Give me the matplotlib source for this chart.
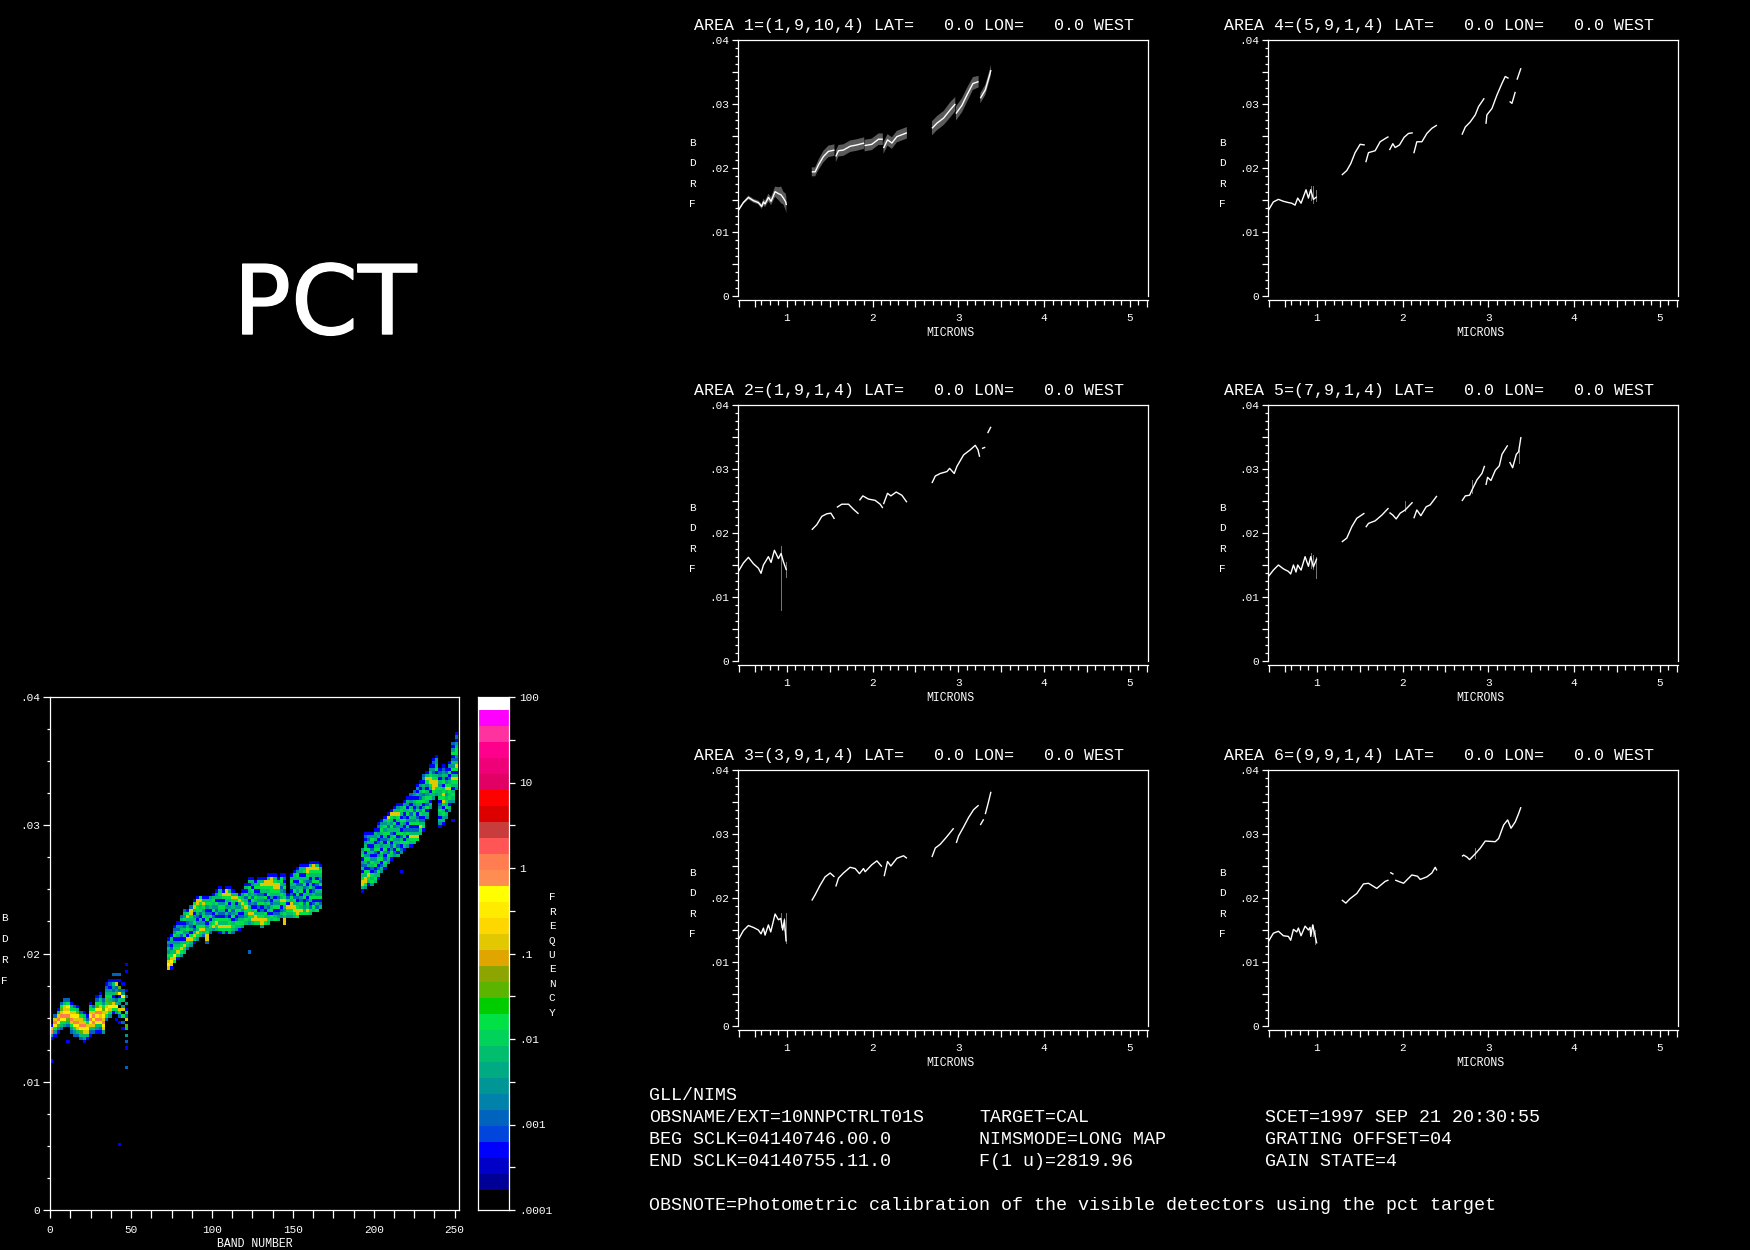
import matplotlib
matplotlib.use('Agg')
from matplotlib import patheffects
from matplotlib import pyplot as plt
from matplotlib.colors import BoundaryNorm, ListedColormap
import numpy as np

nan = float('nan')
W, H = 1750, 1250
FONT = 'Liberation Mono'

# spectra, nan marks a gap in the curve
AREA1_WL = [.436, .494, .553, .611, .669, .708, .728, .747, .786, .817, .864, .903, .934, .961, .988, .996, nan,
            1.292, 1.331, 1.37, 1.428, 1.486, 1.556, nan, 1.572, 1.603, 1.66, 1.74, 1.817, 1.903, nan,
            1.907, 1.992, 2.07, 2.12, nan, 2.128, 2.175, 2.226, 2.284, 2.342, 2.401, nan,
            2.693, 2.751, 2.829, 2.907, 2.965, nan, 2.973, 3.043, 3.101, 3.171, 3.237, nan, 3.257, 3.315, 3.354, 3.381]
AREA1_BDRF = [.0134, .0146, .0154, .0149, .0146, .0140, .0147, .0144, .0154, .0148, .0163, .0160, .0158, .0153, .0147, .0142, nan,
              .0194, .0194, .0205, .0218, .0226, .0228, nan, .0218, .0227, .0228, .0234, .0236, .0239, nan,
              .0235, .0237, .0245, .0245, nan, .0231, .0244, .0239, .0249, .0252, .0255, nan,
              .0262, .0270, .0278, .0291, .0300, nan, .0285, .0298, .0314, .0332, .0335, nan, .0309, .0322, .0340, .0353]
AREA1_SPREAD = [.0002, .0002, .0003, .0003, .0003, .0004, .0005, .0005, .0006, .0006, .0008, .0010, .0013, .0010, .0013, .0013, nan,
                .0007, .0007, .0008, .0009, .0009, .0009, nan, .0009, .0009, .0009, .0009, .0009, .0009, nan,
                .0009, .0009, .0009, .0009, nan, .0009, .0009, .0009, .0009, .0009, .0009, nan,
                .0011, .0011, .0011, .0012, .0011, nan, .0011, .0011, .0011, .0010, .0009, nan, .0008, .0008, .0008, .0008]
AREA2_WL = [.436, .494, .553, .611, .669, .70, .728, .786, .817, .856, .903, .934, .961, .996, nan,
            1.292, 1.35, 1.409, 1.467, 1.514, 1.556, nan, 1.584, 1.642, 1.72, 1.778, 1.837, nan,
            1.848, 1.887, 1.953, 2.031, 2.089, 2.12, nan, 2.128, 2.175, 2.214, 2.276, 2.342, 2.401, nan,
            2.693, 2.732, 2.79, 2.868, 2.899, 2.953, 2.984, 3.062, 3.14, 3.198, 3.23, 3.249, nan, 3.276, 3.315, nan, 3.342, 3.381]
AREA2_BDRF = [.0140, .0153, .0162, .0152, .0145, .0137, .0150, .0163, .0154, .0173, .0160, .0168, .0155, .0142, nan,
              .0205, .0213, .0226, .0230, .0231, .0222, nan, .0240, .0245, .0245, .0237, .0230, nan,
              .0251, .0258, .0253, .0251, .0245, .0239, nan, .0245, .0262, .0258, .0264, .0259, .0248, nan,
              .0278, .0289, .0293, .0296, .0301, .0293, .0304, .0322, .0330, .0337, .0330, .0319, nan, .0332, .0334, nan, .0356, .0366]
AREA3_WL = [.436, .494, .553, .611, .669, .70, .728, .747, .786, .813, .864, .903, .93, .953, .973, .992, nan,
            1.292, 1.331, 1.389, 1.447, 1.506, 1.556, nan, 1.572, 1.603, 1.661, 1.739, 1.798, 1.848, 1.895, 1.914, 1.992, 2.051, 2.109, nan,
            2.136, 2.175, 2.214, 2.284, 2.362, 2.401, nan,
            2.693, 2.732, 2.79, 2.868, 2.946, nan, 2.977, 3.004, 3.062, 3.121, 3.179, 3.237, nan, 3.257, 3.296, nan, 3.315, 3.354, 3.381]
AREA3_BDRF = [.0135, .0149, .0157, .0154, .0150, .0144, .0153, .0142, .0158, .0147, .0175, .0166, .0168, .0150, .0166, .0132, nan,
              .0196, .0205, .0220, .0233, .0239, .0233, nan, .0218, .0231, .0239, .0248, .0246, .0238, .0246, .0241, .0252, .0258, .0249, nan,
              .0234, .0257, .0250, .0262, .0266, .0262, nan,
              .0264, .0278, .0284, .0296, .0309, nan, .0286, .0297, .0311, .0326, .0338, .0345, nan, .0314, .0323, nan, .0331, .0351, .0366]
AREA4_WL = [.436, .494, .553, .611, .669, .708, .747, .778, .817, .875, .903, .93, .961, 1.0, nan,
            1.292, 1.35, 1.397, 1.447, 1.506, 1.56, nan, 1.572, 1.603, 1.681, 1.739, 1.798, 1.837, nan,
            1.848, 1.887, 1.914, 1.965, 2.019, 2.07, 2.12, nan, 2.132, 2.167, 2.226, 2.284, 2.342, 2.401, nan,
            2.693, 2.732, 2.79, 2.848, 2.887, 2.953, nan, 2.973, 2.984, 3.043, 3.101, 3.159, 3.198, 3.237, nan,
            3.249, 3.276, 3.315, nan, 3.335, 3.381]
AREA4_BDRF = [.0134, .0147, .0151, .0148, .0146, .0145, .0142, .0153, .0145, .0166, .0153, .0166, .0151, .0155, nan,
              .0189, .0196, .0207, .0224, .0237, .0236, nan, .0209, .0224, .0227, .0241, .0246, .0249, nan,
              .0228, .0238, .0232, .0236, .0248, .0254, .0255, nan, .0223, .0241, .0241, .0254, .0262, .0267, nan,
              .0252, .0264, .0272, .0283, .0296, .0309, nan, .0269, .0283, .0293, .0314, .0332, .0343, .0340, nan,
              .0304, .0301, .0319, nan, .0338, .0356]
AREA5_WL = [.436, .494, .553, .611, .669, .696, .728, .758, .778, .817, .864, .903, .93, .961, 1.0, nan,
            1.292, 1.35, 1.409, 1.467, 1.556, nan, 1.572, 1.603, 1.681, 1.759, 1.837, nan,
            1.848, 1.887, 1.926, 1.973, 2.031, 2.117, nan, 2.132, 2.167, 2.214, 2.276, 2.323, 2.401, nan,
            2.693, 2.732, 2.782, 2.809, 2.868, 2.926, 2.957, nan, 2.973, 2.992, 3.031, 3.082, 3.129, 3.16, 3.226, nan,
            3.249, 3.284, 3.327, 3.354, 3.381]
AREA5_BDRF = [.0132, .0142, .0150, .0144, .0140, .0136, .0150, .0139, .0150, .0142, .0163, .0148, .0163, .0147, .0160, nan,
              .0186, .0192, .0210, .0223, .0231, nan, .0209, .0215, .0219, .0228, .0239, nan,
              .0232, .0228, .0222, .0231, .0236, .0248, nan, .0223, .0236, .0227, .0241, .0244, .0258, nan,
              .0250, .0258, .0259, .0267, .0283, .0293, .0305, nan, .0275, .0287, .0282, .0298, .0305, .0323, .0337, nan,
              .0311, .0302, .0323, .0327, .0350]
AREA6_WL = [.436, .494, .553, .611, .669, .696, .728, .767, .786, .817, .864, .903, .922, .93, .953, 1.0, nan,
            1.292, 1.339, 1.389, 1.467, 1.545, 1.603, 1.7, 1.798, 1.837, nan, 1.856, 1.895, nan,
            1.914, 2.012, 2.109, 2.175, 2.206, 2.284, 2.342, 2.381, 2.401, nan,
            2.693, 2.713, 2.751, 2.782, 2.848, 2.907, 2.965, 3.082, 3.121, 3.179, 3.226, 3.265, 3.315, 3.354, 3.381]
AREA6_BDRF = [.0132, .0145, .0148, .0141, .0140, .0134, .0151, .0147, .0153, .0141, .0156, .0150, .0154, .0140, .0158, .0129, nan,
              .0197, .0192, .0199, .0207, .0222, .0223, .0215, .0226, .0228, nan, .0240, .0237, nan,
              .0228, .0223, .0236, .0234, .0229, .0233, .0239, .0248, .0243, nan,
              .0265, .0267, .0264, .0260, .0269, .0278, .0289, .0288, .0293, .0314, .0322, .0309, .0319, .0332, .0342]

# faint vertical error marks around 1 micron: wavelength, low, high
AREA2_SPIKES = [(.938, .0080, .0179), (.996, .0132, .0155)]
AREA3_SPIKES = [(.93, .0155, .0176), (.973, .0150, .0168), (.992, .0130, .0176)]
AREA4_SPIKES = [(.93, .0150, .0172), (.961, .0146, .0172), (.996, .0148, .0165)]
AREA5_SPIKES = [(.93, .0145, .0168), (.961, .0143, .0165), (.996, .0130, .0162), (2.03, .0235, .0250),
                (2.805, .0262, .0283), (3.354, .0310, .0330)]
AREA6_SPIKES = [(.953, .0140, .0158), (.985, .0128, .0150), (2.84, .0262, .0278)]

TITLES = ['AREA 1=(1,9,10,4) LAT=   0.0 LON=   0.0 WEST', 'AREA 2=(1,9,1,4) LAT=   0.0 LON=   0.0 WEST',
          'AREA 3=(3,9,1,4) LAT=   0.0 LON=   0.0 WEST', 'AREA 4=(5,9,1,4) LAT=   0.0 LON=   0.0 WEST',
          'AREA 5=(7,9,1,4) LAT=   0.0 LON=   0.0 WEST', 'AREA 6=(9,9,1,4) LAT=   0.0 LON=   0.0 WEST']

# colour table of the frequency bar, bottom to top, with the log10 edges of its bands
BAR_RGB = [(0, 0, 0), (0, 0, 150), (0, 0, 200), (0, 0, 255), (0, 70, 220), (0, 100, 190), (0, 130, 170), (0, 150, 150),
           (0, 170, 130), (0, 190, 110), (0, 210, 90), (0, 225, 70), (0, 205, 0), (90, 180, 0), (140, 165, 0),
           (225, 165, 0), (225, 200, 0), (255, 215, 0), (255, 235, 0), (255, 255, 0), (255, 140, 80), (255, 125, 80),
           (255, 85, 85), (200, 60, 60), (220, 0, 0), (255, 0, 0), (225, 0, 100), (240, 0, 120), (255, 0, 140),
           (255, 50, 160), (255, 0, 255), (255, 255, 255)]
BAR_TICKS = [100, 31.6, 10, 3.16, 1, .316, .1, .0316, .01, .00316, .001, .000316, .0001]
BAR_LABELS = ['100', '', '10', '', '1', '', '.1', '', '.01', '', '.001', '', '.0001']

# frequency meant by each digit in the columns below, 0 is an empty cell
LEVEL_FREQ = {1: .0005, 2: .0012, 3: .0028, 4: .0068, 5: .016, 6: .037, 7: .135, 8: .32, 9: 1.2}
BIN_BANDS = 2
BIN_BDRF = .00025

# (first band, first BDRF bin, digits going up)
HEAT_COLUMNS = [
    (0, 53, '13971'), (2, 54, '1358972'), (4, 55, '13689741'), (6, 56, '245897652'), (8, 57, '358987742'),
    (10, 57, '246987852'), (12, 55, '2357987541'), (14, 54, '2358978752'), (16, 54, '2478978641'),
    (18, 53, '246897752'), (20, 52, '1347897541'), (22, 53, '14787521'), (24, 54, '12478987541'),
    (26, 55, '247989752'), (28, 55, '134898986521'), (30, 55, '1248979875421'), (32, 55, '37897876532'),
    (34, 59, '257875654321'), (36, 60, '357864543121'), (38, 61, '1587314234102'), (40, 59, '103584206327102'),
    (42, 58, '1025703418260102'), (44, 56, '102050730483201'), (46, 50, '1020304607251030201'),
    (46, 44, '2'), (46, 74, '1'), (46, 76, '1'), (42, 20, '1'), (0, 46, '1'), (10, 52, '1'), (122, 80, '2'),
    (248, 121, '1'), (216, 105, '1'),
    (72, 75, '7874534231'), (74, 75, '17875421341'), (76, 77, '578454315321'), (78, 78, '157543145231'),
    (80, 79, '3575412543142'), (82, 80, '45741534215342'), (84, 81, '2457135424751'), (86, 82, '3475142345772'),
    (88, 83, '15742154314751'), (90, 84, '35745312455771'), (92, 85, '4575341254575'), (94, 85, '2475315435741'),
    (96, 83, '277543154213541'), (98, 86, '245415214543'), (100, 87, '375421534541'), (102, 87, '4575142351431'),
    (104, 86, '157451245314541'), (106, 86, '35745124531571'), (108, 86, '157452413545771'),
    (110, 86, '457541253145741'), (112, 86, '24541532445741'), (114, 87, '345214531574'), (116, 87, '145421534751'),
    (118, 88, '354213575431'), (120, 89, '4534575425141'), (122, 89, '345754215345141'), (124, 89, '475741352451341'),
    (126, 89, '57745124531541'), (128, 89, '575412534215441'), (130, 88, '3775421534245741'), (132, 89, '574513425145771'),
    (134, 89, '4541425315457741'), (136, 90, '451542134557771'), (138, 90, '542153414577541'), (140, 90, '43215342457741'),
    (142, 91, '34215745324551'), (144, 89, '7745345754253121'), (146, 91, '34571521'), (148, 91, '34577452134541'),
    (150, 91, '457745215341441'), (152, 91, '5775412534214531'), (154, 92, '5745231542541441'), (156, 92, '5432154125341541'),
    (158, 92, '5745214531245771'), (160, 92, '45214531542145741'), (162, 93, '4521542315445771'), (164, 93, '5241534125145741'),
    (166, 94, '42153415234541'),
    (192, 99, '14775414231543'), (194, 100, '357745124531543121'), (196, 101, '14575142534514231'),
    (198, 101, '35451245314214531'), (200, 102, '45421543125414341'), (202, 103, '145214531542143121'),
    (204, 105, '34215451342145431'), (206, 106, '14521354124535341'), (208, 108, '3452145315424571'),
    (210, 109, '1453215424534571'), (212, 110, '3215435142514741'), (214, 110, '41524315431457431'),
    (216, 111, '3215425134514541'), (218, 112, '1451542135214531'), (220, 113, '3541524131541341'),
    (222, 113, '14574215342541312'), (224, 114, '45742153452134132'), (226, 115, '574215421534514131'),
    (228, 117, '45742153145234131'), (230, 118, '154214531542534132'), (232, 122, '341524534135741'),
    (234, 125, '34154145775431'), (236, 128, '3457775423121'), (238, 129, '3457754154331'),
    (240, 119, '1341453215445341321'), (242, 120, '1435415757541534321'), (244, 122, '3415454347531421'),
    (246, 124, '3413545754215131'), (248, 127, '3454145741534215312'), (250, 131, '345741574235543121'),
]

GRID_TEXT = [
    (649, 1095, 'GLL/NIMS'), (649, 1117, 'OBSNAME/EXT=10NNPCTRLT01S'), (979, 1117, 'TARGET=CAL'),
    (1265, 1117, 'SCET=1997 SEP 21 20:30:55'), (649, 1139, 'BEG SCLK=04140746.00.0'),
    (979, 1139, 'NIMSMODE=LONG MAP'), (1265, 1139, 'GRATING OFFSET=04'), (649, 1161, 'END SCLK=04140755.11.0'),
    (979, 1161, 'F(1 u)=2819.96'), (1265, 1161, 'GAIN STATE=4'),
    (649, 1205, 'OBSNOTE=Photometric calibration of the visible detectors using the pct target'),
]


def axes_px(fig, left, top, right, bottom):
    ax = fig.add_axes([left / W, 1 - bottom / H, (right - left) / W, (bottom - top) / H], facecolor='black')
    for spine in ax.spines.values():
        spine.set_color('white')
        spine.set_linewidth(0.9)
    ax.tick_params(which='both', colors='white', width=0.9, labelfontfamily=FONT, labelsize=8)
    return ax


def put_text(fig, x, y, text, size=8, family=FONT, **kwargs):
    kwargs.setdefault('va', 'center')
    kwargs.setdefault('ha', 'left')
    return fig.text(x / W, 1 - y / H, text, color='white', family=family, fontsize=size, **kwargs)


def plot_area(fig, left, top, title, wl, bdrf, spread=None, spikes=()):
    ax = axes_px(fig, left, top, left + 409.5, top + 256)
    ax.spines['bottom'].set_position(('outward', 2.9))
    ax.set_xlim(.435, 5.21)
    ax.set_ylim(0, .04)
    major = [.44, .63, 1, 1.5, 2, 2.5, 3, 3.5, 4, 4.5, 5, 5.2]
    labels = ['', '', '1', '', '2', '', '3', '', '4', '', '5', '']
    ax.set_xticks(major, labels)
    ax.set_xticks(np.arange(.7, 5.2, .1), minor=True)
    ax.set_yticks(np.arange(0, .0401, .005), ['0', '', '.01', '', '.02', '', '.03', '', '.04'])
    ax.set_yticks(np.arange(0, .0401, .00125), minor=True)
    ax.tick_params(axis='x', which='major', length=5, pad=4)
    ax.tick_params(axis='x', which='minor', length=3.6)
    ax.tick_params(axis='y', which='major', length=4.5, pad=2)
    ax.tick_params(axis='y', which='minor', length=2)
    if spread is not None:
        low = np.array(bdrf) - np.array(spread)
        high = np.array(bdrf) + np.array(spread)
        ax.fill_between(wl, low, high, color='#5a5a5a', lw=0)
    for x, low, high in spikes:
        ax.plot([x, x], [low, high], color='#777777', lw=0.7)
    ax.plot(wl, bdrf, color='white', lw=1.0, solid_capstyle='butt')
    put_text(fig, left - 44, top - 14.5, title, size=12)
    put_text(fig, left - 46, top + 133.5, 'B\nD\nR\nF', ha='center', linespacing=2.3)
    put_text(fig, left + 212, top + 293, 'MICRONS', ha='center', size=8.3)


def heat_grid():
    n_cols = 252 // BIN_BANDS + 1
    n_rows = int(round(.04 / BIN_BDRF))
    grid = np.zeros((n_rows, n_cols))
    for band, row, digits in HEAT_COLUMNS:
        for i, digit in enumerate(digits):
            if digit != '0':
                grid[row + i, band // BIN_BANDS] = LEVEL_FREQ[int(digit)]
    return np.ma.masked_equal(grid, 0)


if __name__ == '__main__':
    plt.rcParams['axes.unicode_minus'] = False
    fig = plt.figure(figsize=(W / 100, H / 100), dpi=100, facecolor='black')

    colours = [tuple(c / 255 for c in rgb) for rgb in BAR_RGB]
    bar_edges = 10.0 ** np.concatenate(([-4], -3.766 + .1872 * np.arange(31), [2]))
    bar_cmap = ListedColormap(colours)
    bar_norm = BoundaryNorm(bar_edges, bar_cmap.N)

    # density image, left
    ax = axes_px(fig, 49.7, 697, 458.5, 1210)
    ax.pcolormesh(np.arange(0, 253 + BIN_BANDS, BIN_BANDS), np.arange(0, .04 + BIN_BDRF / 2, BIN_BDRF), heat_grid(),
                  cmap=bar_cmap, norm=bar_norm)
    ax.set_xlim(-.3, 252.4)
    ax.set_ylim(0, .04)
    ax.set_xticks(np.arange(0, 251, 12.5), ['0', '', '', '', '50', '', '', '', '100', '', '', '', '150', '', '', '',
                                            '200', '', '', '', '250'])
    ax.set_yticks(np.arange(0, .0401, .01), ['0', '.01', '.02', '.03', '.04'])
    ax.set_yticks(np.arange(0, .0401, .0025), minor=True)
    ax.tick_params(axis='x', length=5.8, pad=5)
    ax.tick_params(axis='y', which='major', length=5, pad=2)
    ax.tick_params(axis='y', which='minor', length=2)
    put_text(fig, 254.5, 1243.6, 'BAND NUMBER', ha='center', size=8.3)
    put_text(fig, 4.5, 949.5, 'B\nD\nR\nF', ha='center', linespacing=2.35)

    # frequency bar
    bar = axes_px(fig, 477.6, 697, 508.6, 1210)
    bar.pcolormesh([0, 1], bar_edges, np.sqrt(bar_edges[:-1] * bar_edges[1:]).reshape(-1, 1), cmap=bar_cmap, norm=bar_norm)
    bar.set_yscale('log')
    bar.set_ylim(.0001, 100)
    bar.set_xticks([])
    bar.yaxis.tick_right()
    bar.set_yticks(BAR_TICKS, BAR_LABELS)
    bar.minorticks_off()
    bar.tick_params(axis='y', length=4.5, pad=3)
    put_text(fig, 552, 955, 'F\nR\nE\nQ\nU\nE\nN\nC\nY', ha='center', linespacing=1.55)

    pct = put_text(fig, 325, 334, 'PCT', size=69, family='DejaVu Sans', ha='center', va='baseline')
    pct.set_path_effects([patheffects.withStroke(linewidth=1.0, foreground='white')])

    left_cols = [738.3, 738.3, 738.3, 1268.3, 1268.3, 1268.3]
    tops = [40, 405, 770, 40, 405, 770]
    wls = [AREA1_WL, AREA2_WL, AREA3_WL, AREA4_WL, AREA5_WL, AREA6_WL]
    bdrfs = [AREA1_BDRF, AREA2_BDRF, AREA3_BDRF, AREA4_BDRF, AREA5_BDRF, AREA6_BDRF]
    spreads = [AREA1_SPREAD, None, None, None, None, None]
    spikes = [(), AREA2_SPIKES, AREA3_SPIKES, AREA4_SPIKES, AREA5_SPIKES, AREA6_SPIKES]
    for i in range(6):
        plot_area(fig, left_cols[i], tops[i], TITLES[i], wls[i], bdrfs[i], spreads[i], spikes[i])

    for x, y, text in GRID_TEXT:
        put_text(fig, x, y, text, size=13.2)

    fig.savefig('out.png', dpi=100, facecolor='black')
